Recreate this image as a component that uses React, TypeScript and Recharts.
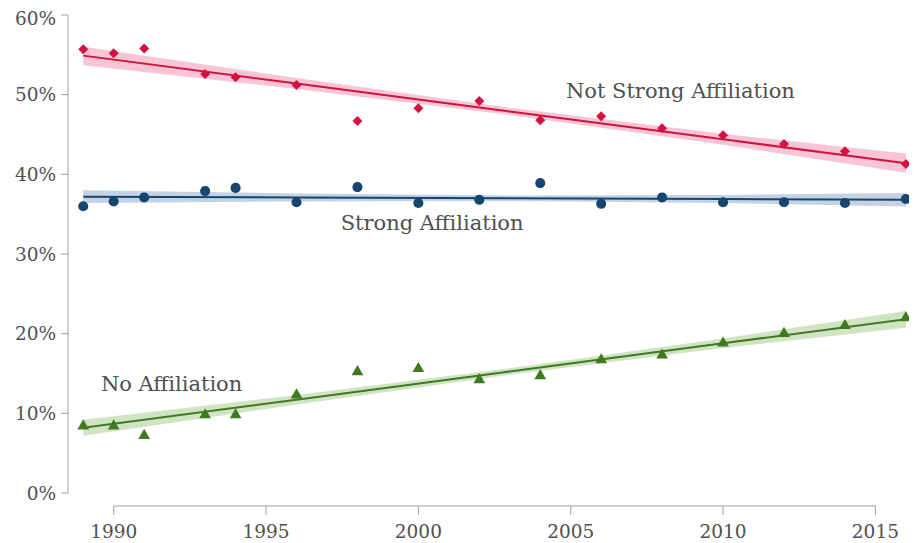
import { ComposedChart, Area, Line, Scatter, XAxis, YAxis, ReferenceLine, ReferenceDot, Symbols } from 'recharts'

// survey years and shares (%)
const years = [1989, 1990, 1991, 1993, 1994, 1996, 1998, 2000, 2002, 2004, 2006, 2008, 2010, 2012, 2014, 2016]
const notStrong = [55.7, 55.2, 55.8, 52.6, 52.2, 51.2, 46.7, 48.3, 49.2, 46.8, 47.3, 45.8, 44.9, 43.8, 42.9, 41.3]
const strong = [36.0, 36.6, 37.1, 37.9, 38.3, 36.5, 38.4, 36.4, 36.8, 38.9, 36.3, 37.1, 36.5, 36.5, 36.4, 36.9]
const noAffil = [8.4, 8.4, 7.2, 9.8, 9.8, 12.3, 15.2, 15.6, 14.2, 14.7, 16.7, 17.3, 18.8, 20.0, 21.0, 22.0]

// fitted lines with confidence bands
const fitYears = [1989, 1996, 2003, 2010, 2016]
const notStrongFit = [54.9, 51.4, 47.9, 44.4, 41.4]
const notStrongLow = [53.7, 50.7, 47.45, 43.7, 40.2]
const notStrongHigh = [56.0, 52.1, 48.35, 45.1, 42.6]
const strongFit = [37.2, 37.1, 37.0, 36.9, 36.8]
const strongLow = [36.4, 36.6, 36.65, 36.4, 35.95]
const strongHigh = [38.0, 37.6, 37.35, 37.4, 37.65]
const noFit = [8.2, 11.7, 15.25, 18.8, 21.8]
const noLow = [7.2, 11.1, 14.85, 18.2, 20.75]
const noHigh = [9.2, 12.3, 15.65, 19.4, 22.85]

const xTicks = [1990, 1995, 2000, 2005, 2010, 2015]
const yTicks = [0, 10, 20, 30, 40, 50, 60]

const points = years.map((year, i) => ({ year, notStrong: notStrong[i], strong: strong[i], noAffil: noAffil[i] }))
const fits = fitYears.map((year, i) => ({
  year,
  nsFit: notStrongFit[i], nsBand: [notStrongLow[i], notStrongHigh[i]],
  sFit: strongFit[i], sBand: [strongLow[i], strongHigh[i]],
  nFit: noFit[i], nBand: [noLow[i], noHigh[i]],
}))

const FONT = 'DejaVu Serif'
const TEXT = '#505050'
const AXIS = '#a0a0a0'

const RED = '#d3123f'
const BLUE = '#16466f'
const GREEN = '#3f7a21'

const XTick = (props: any) => {
  const { x, y, payload } = props
  return (
    <g>
      <line x1={x} x2={x} y1={y + 13} y2={y + 22} stroke={AXIS} strokeWidth={1} />
      <text x={x} y={y + 45} textAnchor="middle" fill={TEXT} style={{ fontFamily: FONT, fontSize: 18.5 }}>
        {payload.value}
      </text>
    </g>
  )
}

// square-ish diamond like the original marker
const Diamond = (p: any) => {
  const { cx, cy } = p
  const h = 5
  return <polygon points={`${cx},${cy - h} ${cx + h},${cy} ${cx},${cy + h} ${cx - h},${cy}`} fill={RED} />
}

const marker = (type: any, size: number, fill: string) => (p: any) =>
  <Symbols cx={p.cx} cy={p.cy} type={type} size={size} fill={fill} />

const label = (text: string) => ({
  value: text,
  position: 'center' as const,
  fill: TEXT,
  style: { fontFamily: FONT, fontSize: 21 },
})

export default function App() {
  return (
    <ComposedChart width={909} height={535} data={points} margin={{ top: 7, right: 2, left: 0, bottom: 10 }}>
      <XAxis
        dataKey="year"
        type="number"
        domain={[1988.5, 2016.3]}
        ticks={xTicks}
        axisLine={false}
        tickLine={false}
        tickSize={0}
        tickMargin={0}
        height={40}
        tick={<XTick />}
      />
      <YAxis
        type="number"
        domain={[0, 60]}
        ticks={yTicks}
        width={60}
        tickFormatter={(v) => `${v}%`}
        axisLine={{ stroke: AXIS }}
        tickLine={{ stroke: AXIS }}
        tickSize={7}
        tickMargin={5}
        tick={{ fill: TEXT, fontSize: 18.5, style: { fontFamily: FONT } }}
      />
      <ReferenceLine
        segment={[{ x: 1990, y: -1.63 }, { x: 2015, y: -1.63 }]}
        stroke={AXIS}
        ifOverflow="visible"
      />

      <Area data={fits} dataKey="nsBand" stroke="none" fill="#f4adc0" fillOpacity={0.7} isAnimationActive={false} />
      <Area data={fits} dataKey="sBand" stroke="none" fill="#a9c0d8" fillOpacity={0.7} isAnimationActive={false} />
      <Area data={fits} dataKey="nBand" stroke="none" fill="#bcd7a8" fillOpacity={0.7} isAnimationActive={false} />

      <Line data={fits} dataKey="nsFit" stroke={RED} strokeWidth={2} dot={false} isAnimationActive={false} />
      <Line data={fits} dataKey="sFit" stroke={BLUE} strokeWidth={2} dot={false} isAnimationActive={false} />
      <Line data={fits} dataKey="nFit" stroke={GREEN} strokeWidth={2} dot={false} isAnimationActive={false} />

      <Scatter dataKey="notStrong" shape={<Diamond />} isAnimationActive={false} />
      <Scatter dataKey="strong" shape={marker('circle', 80, BLUE)} isAnimationActive={false} />
      <Scatter dataKey="noAffil" shape={marker('triangle', 60, GREEN)} isAnimationActive={false} />

      <ReferenceDot x={2008.6} y={50.5} r={0} fill="none" stroke="none" label={label('Not Strong Affiliation')} />
      <ReferenceDot x={2000.45} y={34.0} r={0} fill="none" stroke="none" label={label('Strong Affiliation')} />
      <ReferenceDot x={1991.9} y={13.7} r={0} fill="none" stroke="none" label={label('No Affiliation')} />
    </ComposedChart>
  )
}
